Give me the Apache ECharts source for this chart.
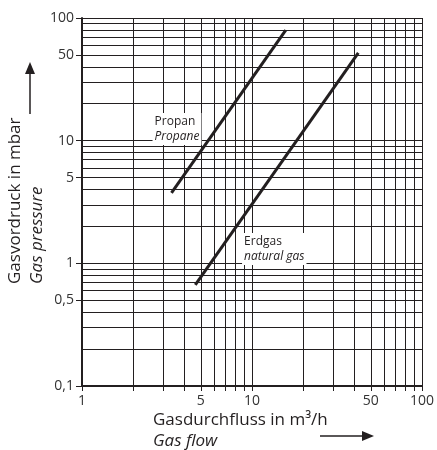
<!DOCTYPE html>
<html>
<head>
<meta charset="utf-8">
<script src="https://cdn.jsdelivr.net/npm/echarts@6/dist/echarts.min.js"></script>
<style>
  html, body { margin: 0; padding: 0; background: #fff; }
  #chart { width: 437px; height: 450px; }
</style>
</head>
<body>
<div id="chart"></div>
<script>
// Gas flow (m3/h) and gas pressure (mbar), end points of the two curves
const propanFlow = [3.36, 15.8]
const propanPressure = [3.75, 79.8]
const erdgasFlow = [4.64, 42.2]
const erdgasPressure = [0.667, 51.9]

// grid / ticks
const xGrid = [1, 2, 3, 4, 5, 6, 7, 8, 9, 10, 20, 30, 40, 50, 60, 70, 80, 90, 100]
const xLabels = [1, 5, 10, 50, 100]
const yGrid = [0.1, 0.2, 0.3, 0.4, 0.5, 0.6, 0.7, 0.8, 0.9, 1, 2, 3, 4, 5, 6, 7, 8, 9, 10, 20, 30, 40, 50, 60, 70, 80, 90, 100]
const yLabels = [0.1, 0.5, 1, 5, 10, 50, 100]

const FONT = '"Open Sans", sans-serif'
const INK = '#231f20'

const chart = echarts.init(document.getElementById('chart'))

const fmt = (v) => String(v).replace('.', ',')

const pairs = (xs, ys) => xs.map((x, i) => [x, ys[i]])

chart.setOption({
  animation: false,
  grid: {
    left: 82,
    right: 13,
    top: 18,
    bottom: 64,
  },
  xAxis: {
    type: 'log',
    logBase: 10,
    min: 1,
    max: 100,
    axisLine: { lineStyle: { color: INK, width: 2 } },
    axisTick: {
      customValues: xGrid,
      length: 5,
      lineStyle: { color: INK, width: 1 },
    },
    axisLabel: {
      customValues: xLabels,
      formatter: fmt,
      fontFamily: FONT,
      fontSize: 14,
      color: '#333',
      margin: 8,
    },
    splitLine: { show: false },
  },
  yAxis: {
    type: 'log',
    logBase: 10,
    min: 0.1,
    max: 100,
    axisLine: { lineStyle: { color: INK, width: 2 } },
    axisTick: {
      customValues: yLabels,
      length: 6,
      lineStyle: { color: INK, width: 1 },
    },
    axisLabel: {
      customValues: yLabels,
      formatter: fmt,
      fontFamily: FONT,
      fontSize: 14,
      color: '#333',
      margin: 8,
    },
    splitLine: { show: false },
  },
  series: [
    {
      // grid lines
      type: 'line',
      data: [],
      z: 1,
      silent: true,
      markLine: {
        silent: true,
        symbol: 'none',
        label: { show: false },
        animation: false,
        lineStyle: { color: INK, width: 1, type: 'solid' },
        data: xGrid.slice(1).map((v) => ({ xAxis: v })).concat(yGrid.slice(1).map((v) => ({ yAxis: v }))),
      },
    },
    {
      // curve labels
      type: 'line',
      data: [],
      z: 2,
      markPoint: {
        symbolSize: 0,
        label: {
          show: true,
          position: [0, 0],
          align: 'left',
          verticalAlign: 'top',
          backgroundColor: '#fff',
          padding: [1, 2],
          lineHeight: 15,
          fontFamily: FONT,
          fontSize: 12,
          color: INK,
          rich: {
            i: { fontStyle: 'italic', fontFamily: FONT, fontSize: 12, color: INK, lineHeight: 15 },
          },
        },
        data: [
          { coord: [2.6, 16.8], label: { formatter: 'Propan\n{i|Propane}' } },
          { coord: [8.74, 1.77], label: { formatter: 'Erdgas\n{i|natural gas}' } },
        ],
      },
    },
    {
      name: 'Propan',
      type: 'line',
      z: 5,
      symbol: 'none',
      data: pairs(propanFlow, propanPressure),
      lineStyle: { color: INK, width: 3 },
    },
    {
      name: 'Erdgas',
      type: 'line',
      z: 5,
      symbol: 'none',
      data: pairs(erdgasFlow, erdgasPressure),
      lineStyle: { color: INK, width: 3 },
    },
  ],
  graphic: [
    {
      type: 'text',
      x: 153,
      y: 420,
      style: { text: 'Gasdurchfluss in m³/h', font: '17px ' + FONT, fill: INK, textVerticalAlign: 'middle' },
    },
    {
      type: 'text',
      x: 153,
      y: 441,
      style: { text: 'Gas flow', font: 'italic 17px ' + FONT, fill: INK, textVerticalAlign: 'middle' },
    },
    {
      type: 'line',
      shape: { x1: 320, y1: 436, x2: 364, y2: 436 },
      style: { stroke: INK, lineWidth: 1.5 },
    },
    {
      type: 'polygon',
      shape: { points: [[374, 436], [362, 431], [362, 441]] },
      style: { fill: INK },
    },
    {
      type: 'text',
      x: 15,
      y: 284,
      rotation: Math.PI / 2,
      style: { text: 'Gasvordruck in mbar', font: '17px ' + FONT, fill: INK, textVerticalAlign: 'middle' },
    },
    {
      type: 'text',
      x: 37,
      y: 284,
      rotation: Math.PI / 2,
      style: { text: 'Gas pressure', font: 'italic 17px ' + FONT, fill: INK, textVerticalAlign: 'middle' },
    },
    {
      type: 'line',
      shape: { x1: 30, y1: 114, x2: 30, y2: 72 },
      style: { stroke: INK, lineWidth: 1.5 },
    },
    {
      type: 'polygon',
      shape: { points: [[30, 62], [25, 74], [35, 74]] },
      style: { fill: INK },
    },
  ],
})
</script>
</body>
</html>
